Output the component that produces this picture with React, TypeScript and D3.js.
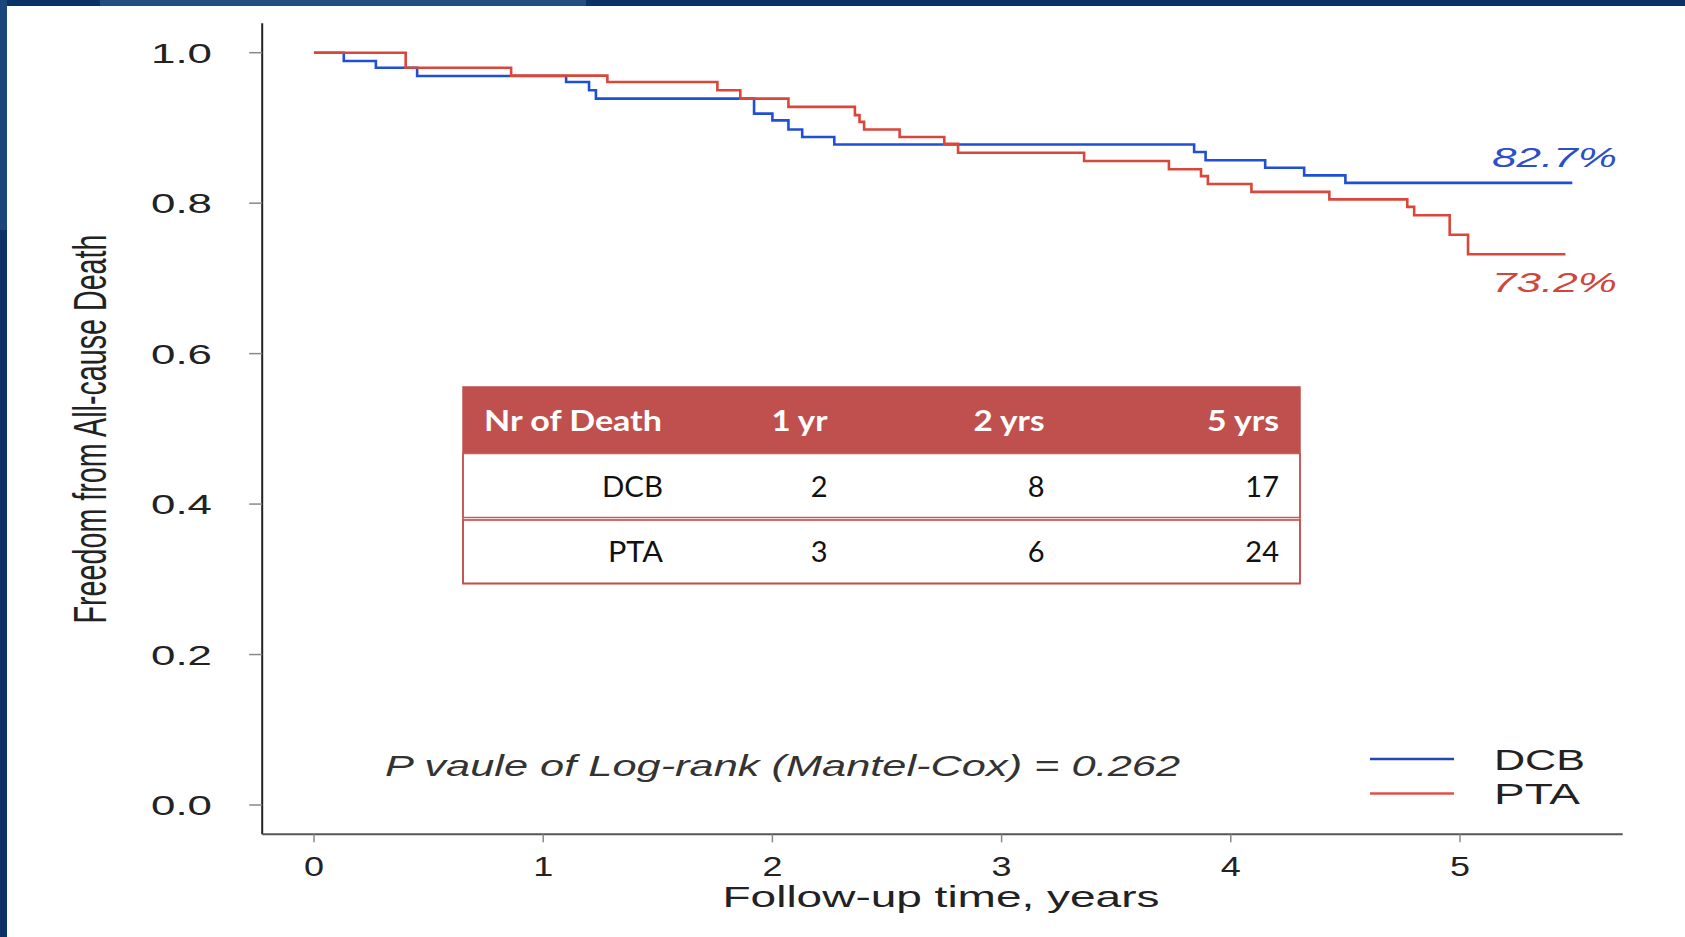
import React from "react";
import * as d3 from "d3";

const W = 1685;
const H = 937;

// Kaplan-Meier steps (time in years, survival after the drop)
const dcbTimes = [0, 0.13, 0.27, 0.45, 1.1, 1.2, 1.23, 1.92, 2.0, 2.07, 2.13, 2.27, 3.84, 3.89, 4.15, 4.32, 4.5];
const dcbSurv = [1.0, 0.989, 0.98, 0.969, 0.961, 0.95, 0.939, 0.919, 0.91, 0.898, 0.888, 0.878, 0.868, 0.857, 0.847, 0.837, 0.827];
const dcbLastFollowUp = 5.49;

const ptaTimes = [0, 0.4, 0.86, 1.28, 1.76, 1.86, 2.07, 2.36, 2.38, 2.4, 2.555, 2.75, 2.81, 3.36, 3.73, 3.87, 3.9, 4.09, 4.43, 4.77, 4.8, 4.955, 5.035];
const ptaSurv = [1.0, 0.98, 0.9695, 0.961, 0.95, 0.939, 0.928, 0.917, 0.908, 0.898, 0.888, 0.879, 0.867, 0.856, 0.845, 0.836, 0.8255, 0.815, 0.805, 0.795, 0.784, 0.758, 0.732];
const ptaLastFollowUp = 5.46;

const yTicks = [0, 0.2, 0.4, 0.6, 0.8, 1.0];
const xTicks = [0, 1, 2, 3, 4, 5];

const groupNames = ["DCB", "PTA"];
const finalLabels = ["82.7%", "73.2%"];

const tableHeader = ["Nr of Death", "1 yr", "2 yrs", "5 yrs"];
const deaths1yr = [2, 3];
const deaths2yr = [8, 6];
const deaths5yr = [17, 24];

const pValueText = "P vaule of Log-rank (Mantel-Cox) = 0.262";
const xTitle = "Follow-up time, years";
const yTitle = "Freedom from All-cause Death";

const BLUE = "#1f4fd2";
const RED = "#d9463a";
const NAVY = "#0b3266";
const HEAD = "#c0504d";
const FONT = "'Liberation Sans', Arial, sans-serif";
const TFONT = "Lato, 'Open Sans', sans-serif";

export default function App() {
  const x = d3.scaleLinear().domain([0, 5]).range([314, 1460]);
  const y = d3.scaleLinear().domain([0, 1]).range([805, 52.7]);
  const xMin = -0.226, xMax = 5.71, yMin = -0.039, yMax = 1.039;

  const line = d3
    .line<[number, number]>()
    .x((d) => x(d[0]))
    .y((d) => y(d[1]))
    .curve(d3.curveStepAfter);

  const dcbPts: [number, number][] = dcbTimes.map((t, i) => [t, dcbSurv[i]]);
  dcbPts.push([dcbLastFollowUp, dcbSurv[dcbSurv.length - 1]]);
  const ptaPts: [number, number][] = ptaTimes.map((t, i) => [t, ptaSurv[i]]);
  ptaPts.push([ptaLastFollowUp, ptaSurv[ptaSurv.length - 1]]);

  // table layout
  const tX0 = 463, tX1 = 1300;
  const rowTops = [387, 453.5, 519, 583.5];
  const colRight = [663, 827.5, 1044.5, 1279];
  const headWidths = [178, 56, 71, 72];
  const rowLabelWidths = [61, 55];
  const tableRows = groupNames.map((g, i) => [g, deaths1yr[i], deaths2yr[i], deaths5yr[i]]);

  return (
    <svg
      width={W}
      height={H}
      style={{ position: "absolute", left: 0, top: 0, background: "#fff" }}
    >
      <rect x={0} y={0} width={W} height={H} fill="#fff" />
      {/* slide frame */}
      <rect x={0} y={0} width={W} height={6} fill={NAVY} />
      <rect x={100} y={0} width={486} height={6} fill="#2c5a8e" opacity={0.7} />
      <rect x={0} y={0} width={7} height={H} fill={NAVY} />
      <rect x={0} y={0} width={7} height={230} fill="#24548a" opacity={0.6} />

      {/* axes */}
      <line x1={x(xMin)} x2={x(xMin)} y1={y(yMax)} y2={y(yMin)} stroke="#222" strokeWidth={2} />
      <line x1={x(xMin)} x2={x(xMax)} y1={y(yMin)} y2={y(yMin)} stroke="#555" strokeWidth={2} />

      {yTicks.map((t) => (
        <g key={"y" + t}>
          <line x1={x(xMin) - 13} x2={x(xMin)} y1={y(t)} y2={y(t)} stroke="#888" strokeWidth={1.5} />
          <text
            x={212}
            y={y(t)}
            dy="0.36em"
            textAnchor="end"
            fontFamily={FONT}
            fontSize={28.5}
            fill="#222"
            textLength={61}
            lengthAdjust="spacingAndGlyphs"
          >
            {t.toFixed(1)}
          </text>
        </g>
      ))}

      {xTicks.map((t) => (
        <g key={"x" + t}>
          <line x1={x(t)} x2={x(t)} y1={y(yMin)} y2={y(yMin) + 8} stroke="#888" strokeWidth={1.5} />
          <text
            x={x(t)}
            y={866}
            dy="0.36em"
            textAnchor="middle"
            fontFamily={FONT}
            fontSize={28}
            fill="#222"
            textLength={20}
            lengthAdjust="spacingAndGlyphs"
          >
            {t}
          </text>
        </g>
      ))}

      <text
        x={941}
        y={897}
        dy="0.36em"
        textAnchor="middle"
        fontFamily={FONT}
        fontSize={29}
        fill="#222"
        textLength={437}
        lengthAdjust="spacingAndGlyphs"
      >
        {xTitle}
      </text>

      <g transform="translate(89,429) scale(1.5,1) rotate(-90)">
        <text
          x={0}
          y={0}
          dy="0.36em"
          textAnchor="middle"
          fontFamily={FONT}
          fontSize={31}
          fill="#222"
          textLength={389}
          lengthAdjust="spacingAndGlyphs"
        >
          {yTitle}
        </text>
      </g>

      {/* survival curves */}
      <path d={line(dcbPts) || ""} fill="none" stroke={BLUE} strokeWidth={2.6} />
      <path d={line(ptaPts) || ""} fill="none" stroke={RED} strokeWidth={2.6} />

      <text
        x={1492}
        y={157}
        dy="0.36em"
        fontFamily={FONT}
        fontStyle="italic"
        fontSize={28}
        fill="#2b4fc8"
        textLength={125}
        lengthAdjust="spacingAndGlyphs"
      >
        {finalLabels[0]}
      </text>
      <text
        x={1492}
        y={282}
        dy="0.36em"
        fontFamily={FONT}
        fontStyle="italic"
        fontSize={28}
        fill="#d0463d"
        textLength={125}
        lengthAdjust="spacingAndGlyphs"
      >
        {finalLabels[1]}
      </text>

      {/* p value */}
      <text
        x={385}
        y={766}
        dy="0.36em"
        fontFamily={FONT}
        fontStyle="italic"
        fontSize={29}
        fill="#333"
        textLength={795}
        lengthAdjust="spacingAndGlyphs"
      >
        {pValueText}
      </text>

      {/* legend */}
      {groupNames.map((g, i) => (
        <g key={"lg" + g}>
          <line
            x1={1370}
            x2={1454}
            y1={759 + i * 34.5}
            y2={759 + i * 34.5}
            stroke={i === 0 ? "#2446b0" : "#e0504a"}
            strokeWidth={2.6}
          />
          <text
            x={1494}
            y={759 + i * 34.5}
            dy="0.36em"
            fontFamily={FONT}
            fontSize={30}
            fill="#222"
            textLength={i === 0 ? 91 : 86}
            lengthAdjust="spacingAndGlyphs"
          >
            {g}
          </text>
        </g>
      ))}

      {/* table */}
      <rect x={tX0} y={rowTops[0]} width={tX1 - tX0} height={rowTops[1] - rowTops[0]} fill={HEAD} />
      <rect x={tX0} y={rowTops[1]} width={tX1 - tX0} height={rowTops[2] - rowTops[1] - 1.5} fill="#fff" stroke="#cc5c58" strokeWidth={1.5} />
      <rect x={tX0} y={rowTops[2] + 1} width={tX1 - tX0} height={rowTops[3] - rowTops[2] - 1} fill="#fff" stroke="#cc5c58" strokeWidth={1.8} />
      <rect x={tX0} y={rowTops[0]} width={tX1 - tX0} height={rowTops[3] - rowTops[0]} fill="none" stroke={HEAD} strokeWidth={1.5} />

      {tableHeader.map((h, j) => (
        <text
          key={"th" + j}
          x={j === 0 ? 484 : colRight[j]}
          y={(rowTops[0] + rowTops[1]) / 2}
          dy="0.36em"
          textAnchor={j === 0 ? "start" : "end"}
          fontFamily={TFONT}
          fontWeight="bold"
          fontSize={29}
          fill="#fff"
          textLength={headWidths[j]}
          lengthAdjust="spacingAndGlyphs"
        >
          {h}
        </text>
      ))}

      {tableRows.map((row, i) =>
        row.map((v, j) => (
          <text
            key={"td" + i + "-" + j}
            x={colRight[j]}
            y={(rowTops[i + 1] + rowTops[i + 2]) / 2}
            dy="0.36em"
            textAnchor="end"
            fontFamily={TFONT}
            fontSize={29}
            fill="#111"
            textLength={j === 0 ? rowLabelWidths[i] : undefined}
            lengthAdjust={j === 0 ? "spacingAndGlyphs" : undefined}
          >
            {v}
          </text>
        ))
      )}
    </svg>
  );
}
